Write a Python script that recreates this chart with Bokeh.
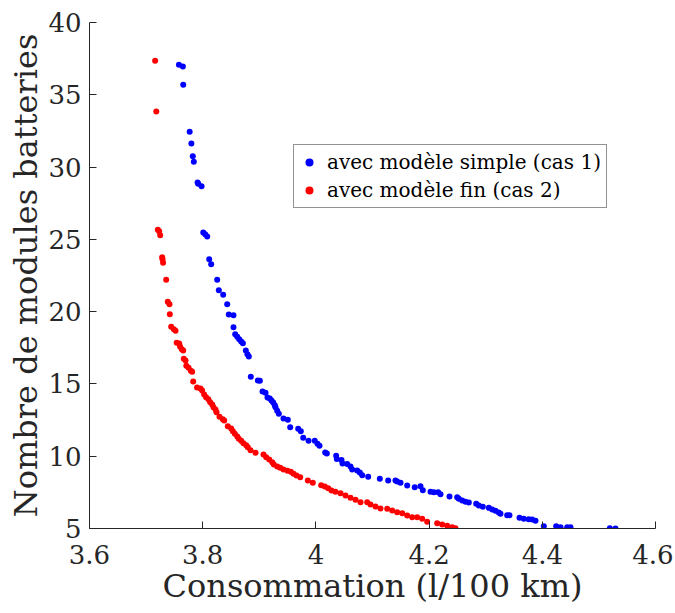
from bokeh.plotting import figure
from bokeh.models import FixedTicker, Legend, LegendItem, Range1d
from bokeh.embed import file_html
from bokeh.resources import INLINE

# Blue series: avec modèle simple (cas 1)
blue_x = [3.758, 3.765, 3.7656, 3.777, 3.780, 3.7825, 3.7843, 3.791, 3.792, 3.798,
          3.801, 3.8044, 3.808, 3.8115, 3.815, 3.8256, 3.8285, 3.8362, 3.8433, 3.8461,
          3.8544, 3.8544, 3.8574, 3.861, 3.8645, 3.868, 3.871, 3.8762, 3.879, 3.8815,
          3.885, 3.8974, 3.901, 3.9057, 3.911, 3.9145, 3.9186, 3.9216, 3.9246, 3.9274,
          3.9286, 3.9316, 3.9345, 3.9428, 3.9504, 3.9546, 3.9687, 3.9733, 3.9776, 3.987,
          3.998, 4.0028, 4.0064, 4.0164, 4.0193, 4.0358, 4.037, 4.0452, 4.047, 4.0553,
          4.0611, 4.0641, 4.073, 4.0776, 4.0818, 4.0924, 4.1129, 4.1277, 4.1406, 4.1436,
          4.1495, 4.1613, 4.1747, 4.1848, 4.1889, 4.2025, 4.2084, 4.2161, 4.2201, 4.2360,
          4.2496, 4.2525, 4.2585, 4.2643, 4.2702, 4.2832, 4.2878, 4.2949, 4.3055, 4.3115,
          4.3173, 4.3231, 4.3261, 4.3379, 4.3420, 4.3597, 4.3673, 4.3761, 4.3821, 4.3880,
          4.4027, 4.4245, 4.4322, 4.4440, 4.4498, 4.5193, 4.5293]
blue_y = [37.07, 36.96, 35.69, 32.44, 31.63, 30.75, 30.36, 28.93, 28.84, 28.68,
          25.47, 25.36, 25.20, 23.63, 23.28, 22.20, 21.48, 21.16, 20.51, 19.80,
          19.75, 18.92, 18.44, 18.26, 18.09, 17.93, 17.82, 17.31, 17.06, 16.90,
          15.49, 15.24, 15.22, 14.48, 14.39, 14.06, 13.99, 13.85, 13.71, 13.53,
          13.39, 13.14, 12.93, 12.61, 12.52, 12.01, 11.90, 11.73, 11.27, 11.07,
          11.07, 10.86, 10.72, 10.26, 10.19, 10.03, 9.80, 9.73, 9.50, 9.47,
          9.29, 9.08, 9.01, 8.87, 8.69, 8.58, 8.44, 8.32, 8.32, 8.25,
          8.16, 7.97, 7.86, 7.93, 7.65, 7.54, 7.51, 7.51, 7.37, 7.21,
          7.17, 7.05, 6.94, 6.85, 6.80, 6.71, 6.59, 6.50, 6.43, 6.31,
          6.22, 6.11, 6.02, 5.92, 5.92, 5.74, 5.67, 5.64, 5.62, 5.53,
          5.16, 5.16, 5.09, 5.09, 5.09, 5.02, 5.00]

# Red series: avec modèle fin (cas 2)
red_x = [3.716, 3.718, 3.7207, 3.7231, 3.7249, 3.7284, 3.729, 3.730, 3.7355, 3.7383,
         3.7413, 3.7419, 3.7443, 3.749, 3.752, 3.754, 3.7585, 3.760, 3.763, 3.7655,
         3.7666, 3.7696, 3.771, 3.775, 3.779, 3.7814, 3.7832, 3.790, 3.796, 3.799,
         3.8026, 3.806, 3.810, 3.8132, 3.8168, 3.819, 3.8226, 3.8244, 3.8297, 3.8355,
         3.838, 3.8444, 3.8503, 3.8533, 3.8568, 3.861, 3.8638, 3.868, 3.872, 3.8768,
         3.8797, 3.8845, 3.8933, 3.9074, 3.9122, 3.9175, 3.9228, 3.9256, 3.9316, 3.937,
         3.9428, 3.9498, 3.9557, 3.9604, 3.9657, 3.9723, 3.9857, 3.9945, 4.0093, 4.0157,
         4.0217, 4.0276, 4.0346, 4.0435, 4.0523, 4.0611, 4.070, 4.0788, 4.0906, 4.0965,
         4.1053, 4.1141, 4.126, 4.1348, 4.1436, 4.1525, 4.1613, 4.1701, 4.179, 4.1878,
         4.1966, 4.2143, 4.2231, 4.232, 4.2408, 4.2466]
red_y = [37.35, 33.84, 25.66, 25.56, 25.29, 23.77, 23.63, 23.38, 22.20, 20.68,
         20.51, 19.82, 18.95, 18.79, 18.67, 17.84, 17.80, 17.59, 17.40, 17.31,
         16.74, 16.62, 16.25, 16.12, 15.91, 15.84, 15.17, 14.75, 14.68, 14.55,
         14.27, 14.08, 13.94, 13.74, 13.58, 13.39, 13.23, 13.04, 12.73, 12.56,
         12.47, 12.08, 11.92, 11.73, 11.55, 11.36, 11.20, 11.07, 10.90, 10.76,
         10.62, 10.42, 10.24, 10.12, 9.93, 9.77, 9.59, 9.43, 9.29, 9.20,
         9.08, 8.99, 8.92, 8.78, 8.67, 8.55, 8.32, 8.16, 8.00, 7.91,
         7.79, 7.63, 7.54, 7.44, 7.28, 7.12, 6.98, 6.82, 6.82, 6.66,
         6.52, 6.38, 6.36, 6.24, 6.13, 6.06, 5.90, 5.78, 5.78, 5.67,
         5.46, 5.37, 5.28, 5.19, 5.09, 5.02]

x_ticks = [3.6, 3.8, 4.0, 4.2, 4.4, 4.6]
x_tick_labels = ["3.6", "3.8", "4", "4.2", "4.4", "4.6"]
y_ticks = [5, 10, 15, 20, 25, 30, 35, 40]
y_tick_labels = ["5", "10", "15", "20", "25", "30", "35", "40"]

series_labels = ["avec modèle simple (cas 1)", "avec modèle fin (cas 2)"]

SERIF = "DejaVu Serif"
AXIS_COLOR = "#262626"

p = figure(output_backend="svg", toolbar_location=None,
           frame_width=566, frame_height=506,
           x_range=Range1d(3.6, 4.6), y_range=Range1d(5, 40),
           min_border_left=89, min_border_top=22, min_border_right=18,
           min_border_bottom=84)
p.outline_line_color = None
p.grid.visible = False
p.background_fill_color = "white"
p.border_fill_color = "white"

rb = p.scatter(blue_x, blue_y, size=6, color="#0000ff", line_color=None)
rr = p.scatter(red_x, red_y, size=6, color="#ff0000", line_color=None)

for ax in (p.xaxis[0], p.yaxis[0]):
    ax.axis_line_color = AXIS_COLOR
    ax.axis_line_width = 1
    ax.major_tick_line_color = AXIS_COLOR
    ax.major_tick_in = 7
    ax.major_tick_out = 0
    ax.minor_tick_line_color = None
    ax.major_label_text_font = SERIF
    ax.major_label_text_font_size = "26px"
    ax.major_label_text_color = "#262626"
    ax.axis_label_text_font = SERIF
    ax.axis_label_text_font_size = "32px"
    ax.axis_label_text_font_style = "normal"
    ax.axis_label_text_color = "#262626"

p.xaxis.ticker = FixedTicker(ticks=x_ticks)
p.xaxis.major_label_overrides = {t: l for t, l in zip(x_ticks, x_tick_labels)}
p.yaxis.ticker = FixedTicker(ticks=y_ticks)
p.yaxis.major_label_overrides = {t: l for t, l in zip(y_ticks, y_tick_labels)}
p.xaxis.axis_label = "Consommation (l/100 km)"
p.yaxis.axis_label = "Nombre de modules batteries"
p.xaxis.major_label_standoff = 16
p.xaxis.axis_label_standoff = 0
p.yaxis.major_label_standoff = 8
p.yaxis.axis_label_standoff = 0

legend = Legend(items=[LegendItem(label=series_labels[0], renderers=[rb]),
                       LegendItem(label=series_labels[1], renderers=[rr])],
                location=(204, 320), margin=0, padding=5, spacing=4,
                glyph_width=20, glyph_height=20, label_standoff=8,
                label_text_font=SERIF, label_text_font_size="20px",
                label_text_color="black",
                border_line_color=AXIS_COLOR, border_line_width=1,
                background_fill_color="white", background_fill_alpha=1.0)
p.add_layout(legend)

open("out.html", "w").write(file_html(p, INLINE))
